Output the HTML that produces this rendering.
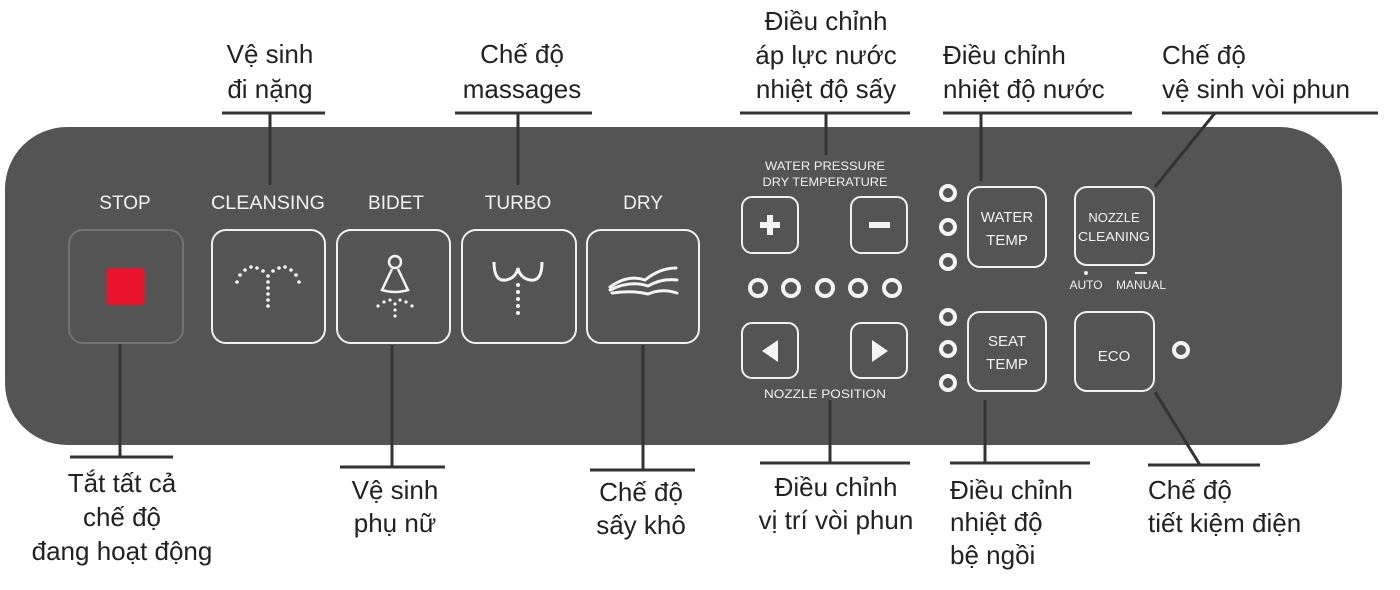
<!DOCTYPE html>
<html><head><meta charset="utf-8"><style>
html,body{margin:0;padding:0;background:#fff;}
svg{display:block;}
.a{font-family:"Liberation Sans","DejaVu Sans",sans-serif;font-size:26px;fill:#222;}
.p{font-family:"Liberation Sans Narrow","Liberation Sans",sans-serif;fill:#f2f2f2;}
</style></head><body>
<svg width="1400" height="590" viewBox="0 0 1400 590" xmlns="http://www.w3.org/2000/svg">
<rect x="0" y="0" width="1400" height="590" fill="#fff"/>
<!-- panel -->
<rect x="5" y="127" width="1337" height="318" rx="62" ry="62" fill="#545454"/>

<g fill="none" stroke="#333" stroke-width="3">
 <!-- top connectors -->
 <line x1="222" y1="113" x2="325" y2="113"/><line x1="270" y1="113" x2="270" y2="185"/>
 <line x1="455" y1="113" x2="592" y2="113"/><line x1="518" y1="113" x2="518" y2="185"/>
 <line x1="740" y1="113" x2="910" y2="113"/><line x1="826" y1="113" x2="826" y2="155"/>
 <line x1="943" y1="113" x2="1132" y2="113"/><line x1="981" y1="113" x2="981" y2="181"/>
 <line x1="1162" y1="113" x2="1378" y2="113"/><line x1="1215" y1="113" x2="1155" y2="187"/>
 <!-- bottom connectors -->
 <line x1="120" y1="343" x2="120" y2="457"/><line x1="70" y1="457" x2="173" y2="457"/>
 <line x1="392" y1="345" x2="392" y2="467"/><line x1="340" y1="467" x2="445" y2="467"/>
 <line x1="643" y1="345" x2="643" y2="470"/><line x1="590" y1="470" x2="695" y2="470"/>
 <line x1="830" y1="400" x2="830" y2="463"/><line x1="760" y1="463" x2="910" y2="463"/>
 <line x1="985" y1="400" x2="985" y2="463"/><line x1="950" y1="463" x2="1090" y2="463"/>
 <line x1="1155" y1="392" x2="1200" y2="465"/><line x1="1148" y1="465" x2="1260" y2="465"/>
</g>

<!-- top annotations -->
<g class="a" text-anchor="middle">
 <text x="270" y="63">Vệ sinh</text><text x="270" y="98">đi nặng</text>
 <text x="522" y="63">Chế độ</text><text x="522" y="98">massages</text>
 <text x="826" y="30">Điều chỉnh</text><text x="826" y="64">áp lực nước</text><text x="826" y="98">nhiệt độ sấy</text>
 <text x="122" y="492">Tắt tất cả</text><text x="122" y="526">chế độ</text><text x="122" y="560">đang hoạt động</text>
 <text x="395" y="499">Vệ sinh</text><text x="395" y="532">phụ nữ</text>
 <text x="641" y="501">Chế độ</text><text x="641" y="534">sấy khô</text>
 <text x="836" y="496">Điều chỉnh</text><text x="836" y="529">vị trí vòi phun</text>
</g>
<g class="a">
 <text x="943" y="64">Điều chỉnh</text><text x="943" y="98">nhiệt độ nước</text>
 <text x="1162" y="64">Chế độ</text><text x="1162" y="98">vệ sinh vòi phun</text>
 <text x="950" y="499">Điều chỉnh</text><text x="950" y="531">nhiệt độ</text><text x="950" y="564">bệ ngồi</text>
 <text x="1148" y="499">Chế độ</text><text x="1148" y="532">tiết kiệm điện</text>
</g>

<!-- panel labels -->
<g class="p" font-size="19" text-anchor="middle">
 <text x="125" y="209">STOP</text>
 <text x="268" y="209" textLength="114" lengthAdjust="spacingAndGlyphs">CLEANSING</text>
 <text x="396" y="209">BIDET</text>
 <text x="518" y="209">TURBO</text>
 <text x="643" y="209">DRY</text>
</g>
<g class="p" font-size="12" text-anchor="middle">
 <text x="825" y="170" textLength="120" lengthAdjust="spacingAndGlyphs">WATER PRESSURE</text>
 <text x="825" y="186" textLength="125" lengthAdjust="spacingAndGlyphs">DRY TEMPERATURE</text>
 <text x="825" y="398" textLength="122" lengthAdjust="spacingAndGlyphs">NOZZLE POSITION</text>
 <text x="1086" y="289">AUTO</text>
 <text x="1141" y="289">MANUAL</text>
</g>
<circle cx="1086" cy="273" r="2" fill="#eee"/>
<line x1="1135" y1="273" x2="1147" y2="273" stroke="#eee" stroke-width="2"/>

<!-- buttons -->
<rect x="69" y="230" width="114" height="113" rx="14" fill="none" stroke="#737373" stroke-width="2"/>
<rect x="107" y="268" width="38" height="37" rx="3" fill="#e8132d"/>
<g fill="none" stroke="#f0f0f0" stroke-width="2">
 <rect x="212" y="230" width="113" height="113" rx="14"/>
 <rect x="337" y="230" width="113" height="113" rx="14"/>
 <rect x="462" y="230" width="114" height="113" rx="14"/>
 <rect x="587" y="230" width="112" height="113" rx="14"/>
 <rect x="742" y="197" width="56" height="56" rx="10"/>
 <rect x="851" y="197" width="56" height="56" rx="10"/>
 <rect x="742" y="323" width="56" height="55" rx="10"/>
 <rect x="851" y="323" width="56" height="55" rx="10"/>
 <rect x="968" y="187" width="78" height="80" rx="12"/>
 <rect x="968" y="312" width="78" height="79" rx="12"/>
 <rect x="1075" y="187" width="79" height="78" rx="12"/>
 <rect x="1075" y="312" width="79" height="79" rx="12"/>
</g>
<g class="p" font-size="15" text-anchor="middle">
 <text x="1007" y="222">WATER</text><text x="1007" y="245">TEMP</text>
 <text x="1007" y="346">SEAT</text><text x="1007" y="369">TEMP</text>
 <text x="1114" y="361">ECO</text>
</g>
<g class="p" font-size="13" text-anchor="middle">
 <text x="1114" y="222">NOZZLE</text><text x="1114" y="241" textLength="72" lengthAdjust="spacingAndGlyphs">CLEANING</text>
</g>
<!-- +/- arrows -->
<g fill="#f4f4f4">
 <rect x="760" y="222" width="20" height="6"/><rect x="767" y="215" width="6" height="20"/>
 <rect x="869" y="222" width="21" height="6"/>
 <polygon points="778,340 778,362 762,351"/>
 <polygon points="872,340 872,362 888,351"/>
</g>
<!-- indicator circles -->
<g fill="none" stroke="#f4f4f4" stroke-width="4">
 <circle cx="758" cy="288" r="8"/><circle cx="791" cy="288" r="8"/><circle cx="825" cy="288" r="8"/><circle cx="858" cy="288" r="8"/><circle cx="892" cy="288" r="8"/>
 <circle cx="948" cy="193" r="7"/><circle cx="948" cy="227" r="7"/><circle cx="948" cy="262" r="7"/>
 <circle cx="948" cy="317" r="7"/><circle cx="948" cy="349" r="7"/><circle cx="948" cy="383" r="7"/>
 <circle cx="1181" cy="350" r="7"/>
</g>
<!-- cleansing icon -->
<g fill="#f4f4f4">
 <circle cx="237" cy="282" r="1.8"/><circle cx="240" cy="275" r="1.8"/><circle cx="245" cy="270" r="1.8"/><circle cx="251" cy="267" r="1.8"/><circle cx="257" cy="268" r="1.8"/><circle cx="263" cy="271" r="1.8"/>
 <circle cx="273" cy="271" r="1.8"/><circle cx="279" cy="268" r="1.8"/><circle cx="285" cy="267" r="1.8"/><circle cx="291" cy="270" r="1.8"/><circle cx="296" cy="275" r="1.8"/><circle cx="299" cy="282" r="1.8"/>
 <circle cx="268" cy="276" r="1.8"/><circle cx="268" cy="282" r="1.8"/><circle cx="268" cy="288" r="1.8"/><circle cx="268" cy="294" r="1.8"/><circle cx="268" cy="300" r="1.8"/><circle cx="268" cy="306" r="1.8"/>
</g>
<!-- bidet icon -->
<g fill="none" stroke="#f4f4f4" stroke-width="2.5">
 <circle cx="395" cy="262" r="6"/>
 <path d="M392 269 L382 290 Q395 294 408 290 L398 269"/>
</g>
<g fill="#f4f4f4">
 <circle cx="378" cy="306" r="1.6"/><circle cx="384" cy="302" r="1.6"/><circle cx="390" cy="300" r="1.6"/><circle cx="395" cy="304" r="1.6"/><circle cx="400" cy="300" r="1.6"/><circle cx="406" cy="302" r="1.6"/><circle cx="412" cy="306" r="1.6"/>
 <circle cx="395" cy="310" r="1.6"/><circle cx="395" cy="316" r="1.6"/>
</g>
<!-- turbo icon -->
<path d="M494 262 Q494 282 506 280 Q516 278 518 268 Q520 278 530 280 Q542 282 542 262" fill="none" stroke="#f4f4f4" stroke-width="3"/>
<g fill="#f4f4f4">
 <circle cx="518" cy="285" r="2"/><circle cx="518" cy="292" r="2"/><circle cx="518" cy="299" r="2"/><circle cx="518" cy="306" r="2"/><circle cx="518" cy="313" r="2"/>
</g>
<!-- dry icon -->
<g fill="none" stroke="#f4f4f4" stroke-width="3" stroke-linecap="round">
 <path d="M610 287 Q628 274 645 280 Q660 268 676 268"/>
 <path d="M610 290 Q630 280 648 286 Q662 278 677 280"/>
 <path d="M612 293 Q632 290 648 294 Q662 288 677 293"/>
</g>
</svg>
</body></html>
